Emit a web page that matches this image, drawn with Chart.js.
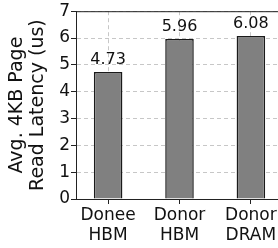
<!DOCTYPE html>
<html>
<head>
<meta charset="utf-8">
<script src="https://cdn.jsdelivr.net/npm/chart.js@4"></script>
<style>
  html, body { margin: 0; padding: 0; background: #fff; overflow: hidden; }
</style>
</head>
<body>
<canvas id="latencyChart" width="285" height="248"></canvas>
<script>
// Chart data
const categories = [["Donee", "HBM"], ["Donor", "HBM"], ["Donor", "DRAM"]];
const latencies = [4.73, 5.96, 6.08];
const yTicks = [0, 1, 2, 3, 4, 5, 6, 7];

const font = "'DejaVu Sans', sans-serif";
const gridColor = "rgba(185, 185, 185, 0.8)";

// Value labels above bars + top spine
const extras = {
    id: "extras",
    afterDraw(chart) {
        const ctx = chart.ctx;
        const area = chart.chartArea;
        ctx.save();
        ctx.strokeStyle = "#222";
        ctx.lineWidth = 1;
        ctx.beginPath();
        ctx.moveTo(area.left, area.top + 0.5);
        ctx.lineTo(area.right, area.top + 0.5);
        ctx.stroke();

        ctx.fillStyle = "#111";
        ctx.font = "16px " + font;
        ctx.textAlign = "center";
        ctx.textBaseline = "bottom";
        chart.getDatasetMeta(0).data.forEach((bar, i) => {
            ctx.fillText(latencies[i].toFixed(2), bar.x, bar.y - 4);
        });
        ctx.restore();
    }
};

new Chart(document.getElementById("latencyChart"), {
    type: "bar",
    data: {
        datasets: [{
            data: latencies.map((v, i) => ({ x: i, y: v })),
            backgroundColor: "#808080",
            borderColor: "#1a1a1a",
            borderWidth: 1.5,
            barPercentage: 0.4,
            categoryPercentage: 1
        }]
    },
    options: {
        responsive: false,
        animation: false,
        layout: { padding: { top: 7, right: 2, left: 0, bottom: 0 } },
        plugins: { legend: { display: false }, tooltip: { enabled: false } },
        scales: {
            x: {
                type: "linear",
                min: -0.45,
                max: 2.45,
                offset: false,
                z: 1,
                afterBuildTicks: (s) => { s.ticks = categories.map((c, i) => ({ value: i })); },
                afterFit: (s) => { s.height = 49; },
                ticks: {
                    callback: (v) => categories[v],
                    color: "#111",
                    font: { family: font, size: 17, lineHeight: 1.15 },
                    padding: 2,
                    maxRotation: 0,
                    autoSkip: false
                },
                grid: {
                    offset: false,
                    color: gridColor,
                    tickColor: "#222",
                    tickLength: 5
                },
                border: { color: "#222", width: 1, dash: [4, 3] }
            },
            y: {
                min: 0,
                max: 7,
                z: 1,
                afterBuildTicks: (s) => { s.ticks = yTicks.map(v => ({ value: v })); },
                afterFit: (s) => { s.width = 76; },
                ticks: {
                    color: "#111",
                    font: { family: font, size: 17 },
                    padding: 1
                },
                grid: {
                    color: gridColor,
                    tickColor: "#222",
                    tickLength: 5
                },
                border: { color: "#222", width: 1, dash: [4, 3] },
                title: {
                    display: true,
                    text: ["Avg. 4KB Page", "Read Latency (us)"],
                    color: "#111",
                    font: { family: font, size: 19, lineHeight: 1.12 },
                    padding: { top: 6, bottom: 0 }
                }
            }
        }
    },
    plugins: [extras]
});
</script>
</body>
</html>
